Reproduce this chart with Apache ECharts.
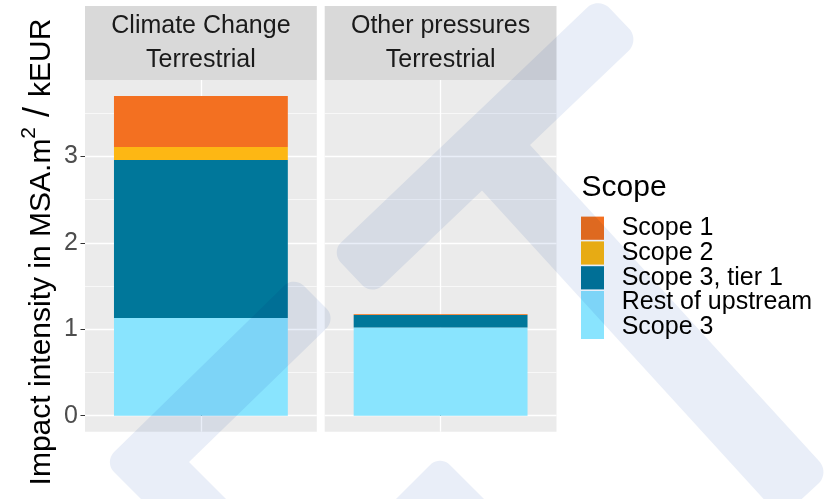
<!DOCTYPE html>
<html>
<head>
<meta charset="utf-8">
<script src="https://cdn.jsdelivr.net/npm/echarts@6/dist/echarts.min.js"></script>
<style>
  html, body { margin: 0; padding: 0; background: #ffffff; }
  #chart { width: 833px; height: 499px; }
</style>
</head>
<body>
<div id="chart"></div>
<script>
// ---- data ----
const facetTitles = ['Climate Change\nTerrestrial', 'Other pressures\nTerrestrial'];
const xCategories = [''];
const scopeNames = ['Scope 1', 'Scope 2', 'Scope 3, tier 1', 'Rest of upstream\nScope 3'];
const scopeColors = ['#F37021', '#FDB714', '#00779A', '#89E4FE'];
const scope1 = [0.59, 0.008];
const scope2 = [0.15, 0.003];
const scope3Tier1 = [1.83, 0.145];
const restOfUpstream = [1.13, 1.02];
const yMajorTicks = [0, 1, 2, 3];
const yMinorTicks = [0.5, 1.5, 2.5, 3.5];
const legendTitle = 'Scope';
// y title pieces: text, superscript, separator, unit
const yTitleParts = ['Impact intensity in MSA.m', '2', ' / ', 'kEUR'];

const scopeValues = [scope1, scope2, scope3Tier1, restOfUpstream];

// ---- layout ----
const FONT = '"Liberation Sans", Arial, Helvetica, sans-serif';
const panelLeft = [85, 324.7];
const panelWidth = 231.8;
const panelTop = 80;
const panelHeight = 351.7;
const stripTop = 6;

const totals = facetTitles.map((_, p) => scopeValues.reduce((s, arr) => s + arr[p], 0));
const yMax = Math.max(...totals);
const yPad = yMax * 0.05;
// helper value axis spanning the discrete slot (centre at 1, padded 0.6 each side)
const xMin = 0.4, xMax = 1.6, xSlot = 1;

const grids = [], xAxes = [], yAxes = [], series = [];
facetTitles.forEach((title, p) => {
  grids.push({
    left: panelLeft[p], top: panelTop, width: panelWidth, height: panelHeight,
    show: true, backgroundColor: '#EBEBEB', borderWidth: 0,
    containLabel: false, outerBoundsMode: 'none'
  });
  // category axis carrying the bars
  xAxes.push({
    type: 'category', gridIndex: p, data: xCategories,
    axisLine: { show: false }, axisTick: { show: false }, axisLabel: { show: false },
    splitLine: { show: false }
  });
  // vertical grid line and tick at the category centre
  xAxes.push({
    type: 'value', gridIndex: p, min: xMin, max: xMax,
    axisLine: { show: false },
    axisTick: { show: true, customValues: [xSlot], length: 4, lineStyle: { color: '#333333', width: 1 } },
    axisLabel: { show: false, customValues: [xSlot] },
    splitLine: { show: true, lineStyle: { color: '#ffffff', width: 1.3 } }
  });
  // major grid + labels
  yAxes.push({
    type: 'value', gridIndex: p, min: -yPad, max: yMax + yPad,
    axisLine: { show: false },
    axisTick: { show: p === 0, customValues: yMajorTicks, length: 4.5, lineStyle: { color: '#333333', width: 1 } },
    axisLabel: {
      show: p === 0, customValues: yMajorTicks, margin: 7,
      fontSize: 25, color: '#4D4D4D', fontFamily: FONT
    },
    splitLine: { show: true, lineStyle: { color: '#ffffff', width: 1.3 } }
  });
  // minor grid
  yAxes.push({
    type: 'value', gridIndex: p, min: -yPad, max: yMax + yPad,
    axisLine: { show: false },
    axisTick: { show: false, customValues: yMinorTicks },
    axisLabel: { show: false, customValues: yMinorTicks },
    splitLine: { show: true, lineStyle: { color: '#ffffff', width: 0.65 } }
  });
  // stacked from the bottom: last scope first
  for (let k = scopeNames.length - 1; k >= 0; k--) {
    series.push({
      type: 'bar', name: scopeNames[k],
      xAxisIndex: 2 * p, yAxisIndex: 2 * p,
      stack: 'facet' + p, barWidth: '75%',
      data: [scopeValues[k][p]],
      itemStyle: { color: scopeColors[k] },
      silent: true
    });
  }
});

// ---- facet strips ----
const graphics = [];
facetTitles.forEach((title, p) => {
  graphics.push({
    type: 'rect', z: 1,
    shape: { x: panelLeft[p], y: stripTop, width: panelWidth, height: panelTop - stripTop },
    style: { fill: '#D9D9D9' }, silent: true
  });
  graphics.push({
    type: 'text', z: 2,
    x: panelLeft[p] + panelWidth / 2, y: (stripTop + panelTop) / 2,
    style: {
      text: title, fontSize: 25, lineHeight: 34.5, fontFamily: FONT, fill: '#1A1A1A',
      align: 'center', verticalAlign: 'middle'
    }, silent: true
  });
});

// ---- y-axis title (with superscript) ----
graphics.push({
  type: 'text', z: 2, x: 38, y: 252, rotation: Math.PI / 2,
  style: {
    text: '{t|' + yTitleParts[0] + '}{s|' + yTitleParts[1] + '}{sl|' + yTitleParts[2] + '}{t|' + yTitleParts[3] + '}',
    fontFamily: FONT, fill: '#000000', align: 'center', verticalAlign: 'middle',
    rich: {
      t: { fontSize: 30, lineHeight: 34, fontFamily: FONT, fill: '#000000', verticalAlign: 'bottom' },
      s: { fontSize: 21, lineHeight: 21, fontFamily: FONT, fill: '#000000', verticalAlign: 'top' },
      sl: { fontSize: 36, lineHeight: 38, fontFamily: FONT, fill: '#000000', verticalAlign: 'bottom' }
    }
  }, silent: true
});

// ---- legend ----
const legX = 581, keyW = 23, rowH = 24.8, legTop = 216.6, labelX = 621.7;
graphics.push({
  type: 'text', z: 2, x: legX + 0.5, y: 187.5,
  style: { text: legendTitle, fontSize: 30, fontFamily: FONT, fill: '#000000', align: 'left', verticalAlign: 'middle' },
  silent: true
});
let row = 0;
scopeNames.forEach((name, k) => {
  const lines = name.split('\n').length;
  const top = legTop + row * rowH;
  const h = lines * rowH - 1.6;
  graphics.push({
    type: 'rect', z: 2,
    shape: { x: legX, y: top, width: keyW, height: h },
    style: { fill: scopeColors[k] }, silent: true
  });
  graphics.push({
    type: 'text', z: 2, x: labelX, y: top + h / 2,
    style: {
      text: name, fontSize: 25, lineHeight: rowH, fontFamily: FONT, fill: '#000000',
      align: 'left', verticalAlign: 'middle'
    }, silent: true
  });
  row += lines;
});

// ---- background logo overlay (multiplied over the chart) ----
function roundCorners(pts, radii, seg) {
  const out = [], n = pts.length;
  seg = seg || 10;
  for (let i = 0; i < n; i++) {
    const p = pts[i], r = radii[i];
    if (!r) { out.push(p); continue; }
    const a = pts[(i + n - 1) % n], b = pts[(i + 1) % n];
    let v1 = [a[0] - p[0], a[1] - p[1]], v2 = [b[0] - p[0], b[1] - p[1]];
    const l1 = Math.hypot(v1[0], v1[1]), l2 = Math.hypot(v2[0], v2[1]);
    v1 = [v1[0] / l1, v1[1] / l1]; v2 = [v2[0] / l2, v2[1] / l2];
    const ang = Math.acos(Math.max(-1, Math.min(1, v1[0] * v2[0] + v1[1] * v2[1])));
    const d = r / Math.tan(ang / 2);
    const s = [p[0] + v1[0] * d, p[1] + v1[1] * d];
    const e = [p[0] + v2[0] * d, p[1] + v2[1] * d];
    let bis = [v1[0] + v2[0], v1[1] + v2[1]];
    const lb = Math.hypot(bis[0], bis[1]);
    bis = [bis[0] / lb, bis[1] / lb];
    const cd = r / Math.sin(ang / 2);
    const c = [p[0] + bis[0] * cd, p[1] + bis[1] * cd];
    const a0 = Math.atan2(s[1] - c[1], s[0] - c[0]);
    const a1 = Math.atan2(e[1] - c[1], e[0] - c[0]);
    let da = a1 - a0;
    while (da > Math.PI) da -= 2 * Math.PI;
    while (da < -Math.PI) da += 2 * Math.PI;
    for (let j = 0; j <= seg; j++) {
      const t = a0 + da * j / seg;
      out.push([c[0] + r * Math.cos(t), c[1] + r * Math.sin(t)]);
    }
  }
  return out;
}
const logoShapes = [
  { pts: [[331, 252], [598.6, -3.4], [640, 40], [530, 145], [830, 473], [781, 518], [482, 190.5], [372, 295.4]],
    r: [14, 16, 16, 0, 16, 16, 0, 14] },
  { pts: [[294, 276], [336.5, 318.5], [189, 462], [263.5, 536.5], [221, 579], [104, 462]],
    r: [14, 14, 0, 0, 0, 14] },
  { pts: [[440, 455], [600, 615], [280, 615]], r: [14, 0, 0] }
];
logoShapes.forEach(s => {
  graphics.push({
    type: 'polygon', z: 100, silent: true,
    shape: { points: roundCorners(s.pts, s.r) },
    style: { fill: '#E9EEF8', blend: 'multiply' }
  });
});

const chart = echarts.init(document.getElementById('chart'), null, { renderer: 'canvas' });
chart.setOption({
  animation: false,
  backgroundColor: '#ffffff',
  textStyle: { fontFamily: FONT },
  grid: grids,
  xAxis: xAxes,
  yAxis: yAxes,
  series: series,
  graphic: { elements: graphics }
});
</script>
</body>
</html>
